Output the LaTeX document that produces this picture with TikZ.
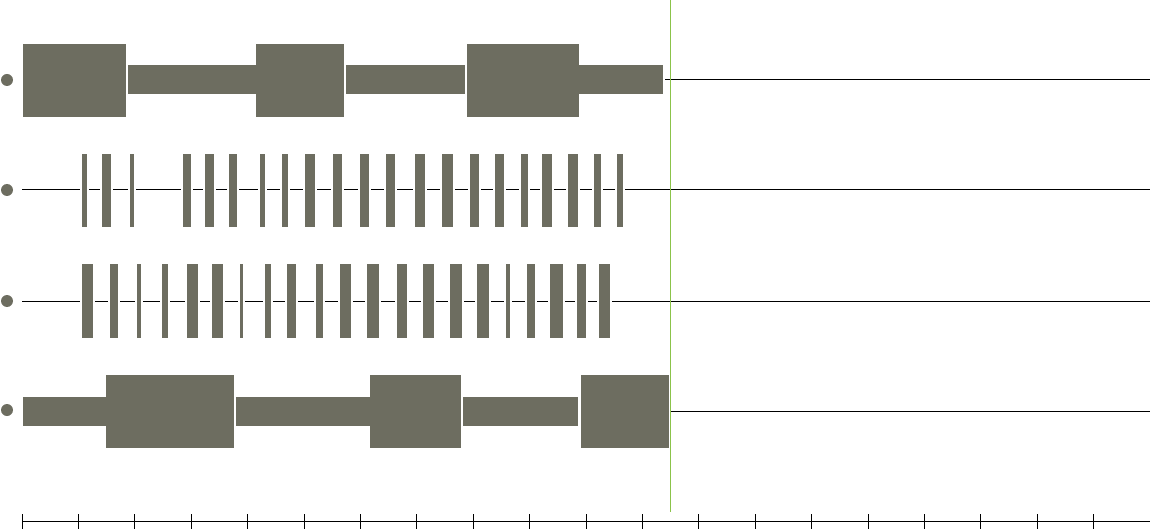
\documentclass[tikz,border=0pt]{standalone}
\definecolor{barcol}{RGB}{109,109,96}
\definecolor{cursorcol}{RGB}{139,195,74}
\begin{document}
\begin{tikzpicture}[x=1pt,y=-1pt,
  barfill/.style={fill=barcol},
  trace/.style={draw=black,line width=1pt},
  gapfill/.style={fill=white}]
\useasboundingbox (0,0) rectangle (1150,529);
% row 1
\draw[trace] (665,80) -- (1150,80);
\foreach \a/\b/\t/\u in {23/126/44/117, 128/256/65/94, 256/344/44/117, 346/465/65/94, 467/579/44/117, 579/663/65/94}
  \fill[barfill] (\a,\t) rectangle (\b,\u);
\fill[barfill] (7,80) circle (6);
% row 2
\draw[trace] (22,190) -- (1150,190);
\foreach \a/\b in {82/87, 102/111, 130/134, 183/191, 205/214, 229/237, 260/265, 282/288, 305/315, 333/342, 360/369, 386/395, 415/425, 442/453, 470/479, 495/504, 521/528, 542/552, 568/578, 594/601, 617/623}{
  \fill[gapfill] ({\a-2},188) rectangle ({\b+2},192);
  \fill[barfill] (\a,154) rectangle (\b,227);
}
\fill[barfill] (7,190) circle (6);
% row 3
\draw[trace] (22,301) -- (1150,301);
\foreach \a/\b in {82/93, 110/118, 137/141, 162/168, 187/198, 212/223, 240/243, 265/271, 287/296, 316/323, 340/351, 367/379, 397/407, 423/434, 450/462, 477/489, 506/510, 527/535, 550/563, 577/586, 599/610}{
  \fill[gapfill] ({\a-2},299) rectangle ({\b+2},303);
  \fill[barfill] (\a,264) rectangle (\b,338);
}
\fill[barfill] (7,301) circle (6);
% row 4
\draw[trace] (671,411) -- (1150,411);
\foreach \a/\b/\t/\u in {23/106/397/426, 106/234/375/448, 236/370/397/426, 370/461/375/448, 463/578/397/426, 581/669/375/448}
  \fill[barfill] (\a,\t) rectangle (\b,\u);
\fill[barfill] (7,410) circle (6);
% cursor
\draw[cursorcol,line width=1pt] (670,0) -- (670,512);
% axis
\draw[trace] (22,521) -- (1150,521);
\foreach \k in {0,...,19}
  \draw[trace] ({22+56.4*\k},514) -- ({22+56.4*\k},529);
\end{tikzpicture}
\end{document}
